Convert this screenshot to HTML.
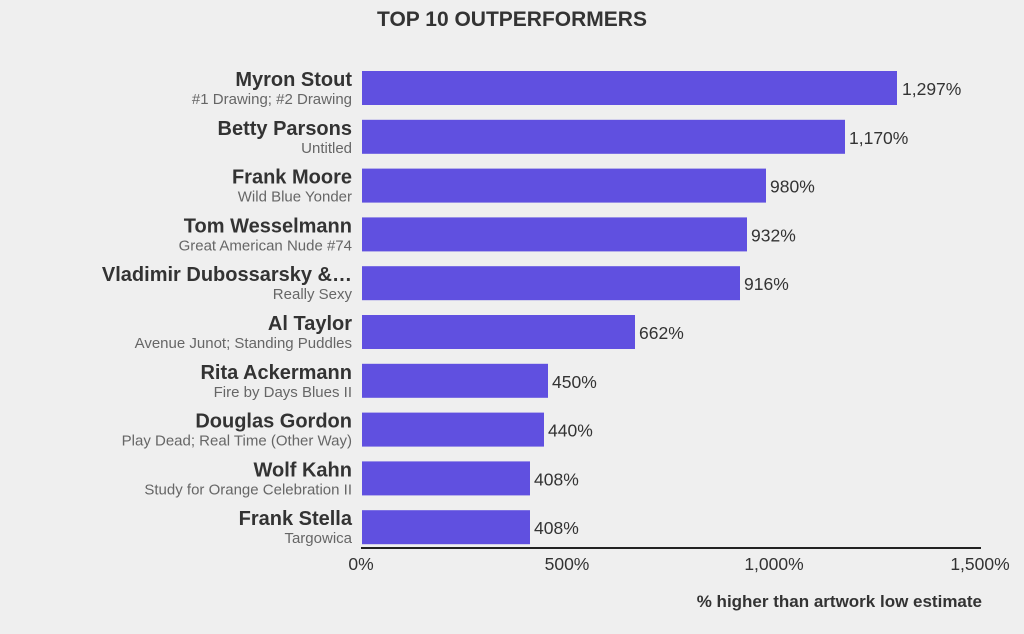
<!DOCTYPE html>
<html><head><meta charset="utf-8"><style>
html,body{margin:0;padding:0;background:#efefef;}
svg{display:block;font-family:"Liberation Sans",sans-serif;}
</style></head><body>
<svg width="1024" height="634" viewBox="0 0 1024 634" xmlns="http://www.w3.org/2000/svg">
<rect width="1024" height="634" fill="#efefef"/>
<text x="512" y="26" text-anchor="middle" font-size="21" font-weight="bold" fill="#333">TOP 10 OUTPERFORMERS</text>
<g fill="#6050e0">
<rect x="362" y="71" width="535" height="34"/>
<rect x="362" y="119.8" width="483" height="34"/>
<rect x="362" y="168.6" width="404" height="34"/>
<rect x="362" y="217.4" width="385" height="34"/>
<rect x="362" y="266.2" width="378" height="34"/>
<rect x="362" y="315" width="273" height="34"/>
<rect x="362" y="363.8" width="186" height="34"/>
<rect x="362" y="412.6" width="182" height="34"/>
<rect x="362" y="461.4" width="168" height="34"/>
<rect x="362" y="510.2" width="168" height="34"/>
</g>
<g text-anchor="end" font-size="20" font-weight="bold" fill="#333">
<text x="352" y="86">Myron Stout</text>
<text x="352" y="134.8">Betty Parsons</text>
<text x="352" y="183.6">Frank Moore</text>
<text x="352" y="232.4">Tom Wesselmann</text>
<text x="352" y="281.2">Vladimir Dubossarsky &amp;…</text>
<text x="352" y="330">Al Taylor</text>
<text x="352" y="378.8">Rita Ackermann</text>
<text x="352" y="427.6">Douglas Gordon</text>
<text x="352" y="476.4">Wolf Kahn</text>
<text x="352" y="525.2">Frank Stella</text>
</g>
<g text-anchor="end" font-size="15" fill="#666">
<text x="352" y="104">#1 Drawing; #2 Drawing</text>
<text x="352" y="152.8">Untitled</text>
<text x="352" y="201.6">Wild Blue Yonder</text>
<text x="352" y="250.4">Great American Nude #74</text>
<text x="352" y="299.2">Really Sexy</text>
<text x="352" y="348">Avenue Junot; Standing Puddles</text>
<text x="352" y="396.8">Fire by Days Blues II</text>
<text x="352" y="445.6">Play Dead; Real Time (Other Way)</text>
<text x="352" y="494.4">Study for Orange Celebration II</text>
<text x="352" y="543.2">Targowica</text>
</g>
<g font-size="17.5" fill="#333">
<text x="902" y="95">1,297%</text>
<text x="849" y="143.8">1,170%</text>
<text x="770" y="192.6">980%</text>
<text x="751" y="241.4">932%</text>
<text x="744" y="290.2">916%</text>
<text x="639" y="339">662%</text>
<text x="552" y="387.8">450%</text>
<text x="548" y="436.6">440%</text>
<text x="534" y="485.4">408%</text>
<text x="534" y="534.2">408%</text>
</g>
<line x1="361" y1="548" x2="981" y2="548" stroke="#222" stroke-width="2"/>
<g font-size="17.5" fill="#333">
<text x="361" y="570" text-anchor="middle">0%</text>
<text x="567" y="570" text-anchor="middle">500%</text>
<text x="774" y="570" text-anchor="middle">1,000%</text>
<text x="980" y="570" text-anchor="middle">1,500%</text>
</g>
<text x="982" y="607" text-anchor="end" font-size="17" font-weight="bold" fill="#333">% higher than artwork low estimate</text>
</svg>
</body></html>
